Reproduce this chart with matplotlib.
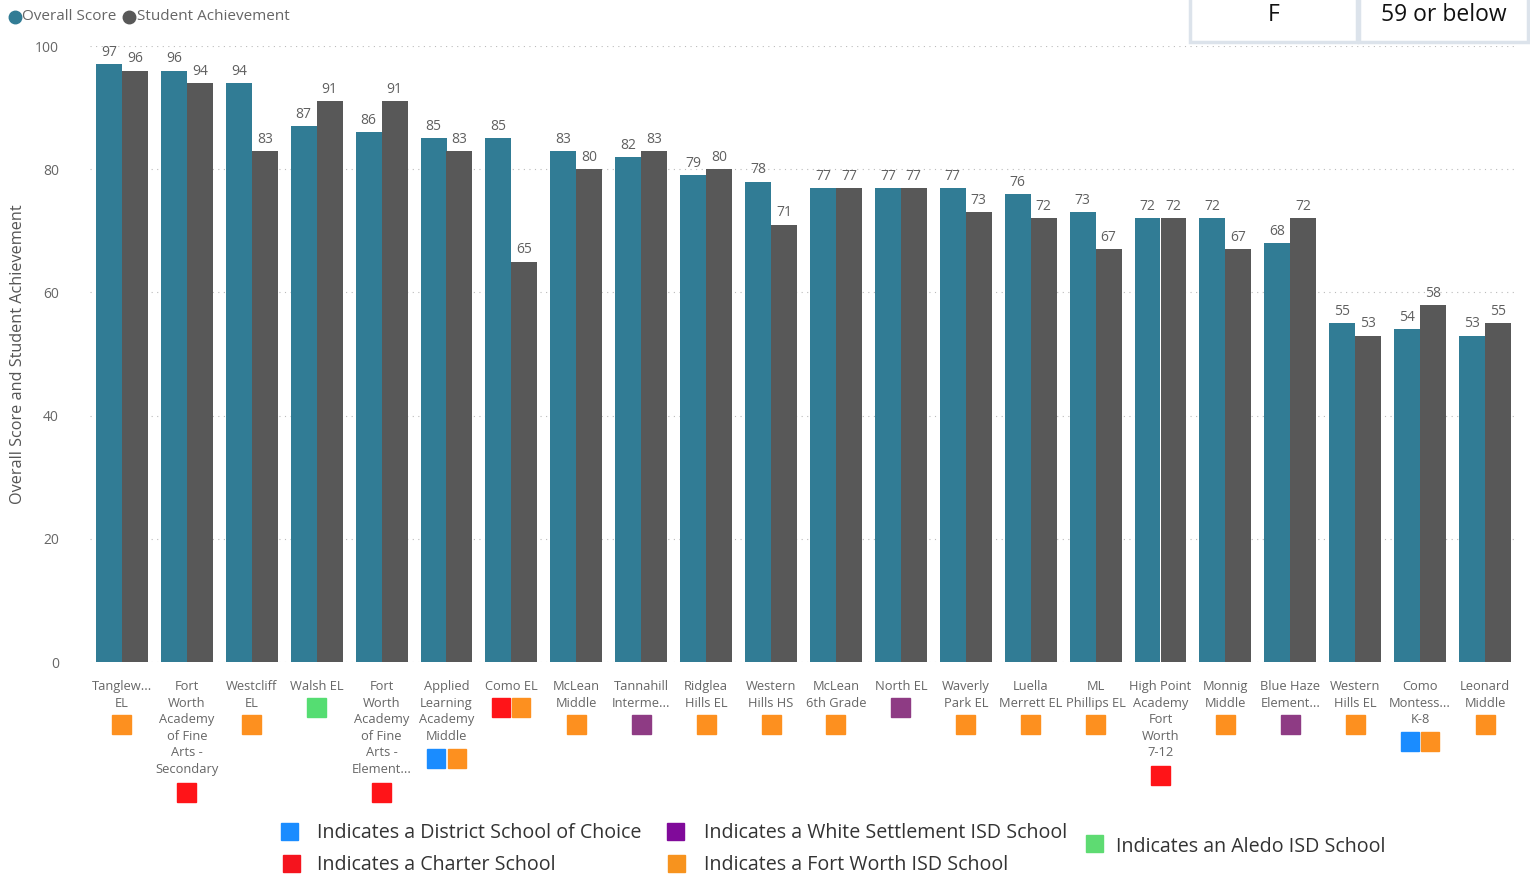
import matplotlib
matplotlib.use("Agg")
import matplotlib.pyplot as plt
from matplotlib.patches import Rectangle
from matplotlib.lines import Line2D
from matplotlib import transforms

plt.rcParams['font.family'] = ['Open Sans', 'DejaVu Sans']

# Data
schools = [
    "Tanglew...\nEL",
    "Fort\nWorth\nAcademy\nof Fine\nArts -\nSecondary",
    "Westcliff\nEL",
    "Walsh EL",
    "Fort\nWorth\nAcademy\nof Fine\nArts -\nElement...",
    "Applied\nLearning\nAcademy\nMiddle",
    "Como EL",
    "McLean\nMiddle",
    "Tannahill\nInterme...",
    "Ridglea\nHills EL",
    "Western\nHills HS",
    "McLean\n6th Grade",
    "North EL",
    "Waverly\nPark EL",
    "Luella\nMerrett EL",
    "ML\nPhillips EL",
    "High Point\nAcademy\nFort\nWorth\n7-12",
    "Monnig\nMiddle",
    "Blue Haze\nElement...",
    "Western\nHills EL",
    "Como\nMontess...\nK-8",
    "Leonard\nMiddle",
]
overall_score = [97, 96, 94, 87, 86, 85, 85, 83, 82, 79, 78, 77, 77, 77, 76, 73, 72, 72, 68, 55, 54, 53]
student_achievement = [96, 94, 83, 91, 91, 83, 65, 80, 83, 80, 71, 77, 77, 73, 72, 67, 72, 67, 72, 53, 58, 55]

# school type markers shown under each name
school_flags = [
    ["fwisd"], ["charter"], ["fwisd"], ["aledo"], ["charter"], ["choice", "fwisd"],
    ["charter", "fwisd"], ["fwisd"], ["wsisd"], ["fwisd"], ["fwisd"], ["fwisd"],
    ["wsisd"], ["fwisd"], ["fwisd"], ["fwisd"], ["charter"], ["fwisd"],
    ["wsisd"], ["fwisd"], ["choice", "fwisd"], ["fwisd"],
]
flag_colors = {"choice": "#1A8CFF", "charter": "#FF1418", "fwisd": "#FD901F",
               "wsisd": "#8E3B84", "aledo": "#55DD72"}

legend_items = [
    ("Indicates a District School of Choice", "#1A8CFF"),
    ("Indicates a Charter School", "#F5141E"),
    ("Indicates a White Settlement ISD School", "#800A9A"),
    ("Indicates a Fort Worth ISD School", "#F7931E"),
    ("Indicates an Aledo ISD School", "#5EDB72"),
]

W, H = 1530, 876
fig = plt.figure(figsize=(W / 100, H / 100), dpi=100)
ax = fig.add_axes([89.5 / W, 1 - 662 / H, (1517.5 - 89.5) / W, (662 - 46) / H])

teal = "#317C95"
grey = "#585858"
x = list(range(len(schools)))
b1 = ax.bar([i - 0.2 for i in x], overall_score, width=0.4, color=teal, zorder=2)
b2 = ax.bar([i + 0.2 for i in x], student_achievement, width=0.4, color=grey, zorder=2)
ax.bar_label(b1, padding=3, fontsize=10, color="#606060")
ax.bar_label(b2, padding=3, fontsize=10, color="#606060")

ax.set_xlim(-0.5, len(schools) - 0.5)
ax.set_ylim(0, 100)
ax.set_yticks([0, 20, 40, 60, 80, 100])
ax.grid(axis="y", linestyle=(0, (1, 4)), color="#BBBBBB", linewidth=0.8, zorder=0)
for s in ax.spines.values():
    s.set_visible(False)
ax.tick_params(axis="y", length=0, labelsize=10, labelcolor="#666666", pad=22)
ax.tick_params(axis="x", length=0, labelsize=9.3, labelcolor="#666666", pad=13)
ax.set_xticks(x)
ax.set_xticklabels(schools, linespacing=1.36, va="top")
fig.text(18 / W, 1 - 354 / H, "Overall Score and Student Achievement", fontsize=11.7,
         color="#555555", rotation=90, ha="center", va="center")

# colored squares under the names
trans = transforms.blended_transform_factory(ax.transData, fig.transFigure)
sq_w = 19 / 64.9
sq_h = 19 / H
for i, (name, flags) in enumerate(zip(schools, school_flags)):
    n_lines = name.count("\n") + 1
    top = 681 + 17 * n_lines
    n = len(flags)
    w = sq_w if n == 1 else 18 / 64.9
    gap = 2 / 64.9
    total = n * w + (n - 1) * gap
    x0 = i - total / 2
    for k, f in enumerate(flags):
        ax.add_patch(Rectangle((x0 + k * (w + gap), 1 - (top + 19) / H), w, sq_h,
                               transform=trans, color=flag_colors[f], clip_on=False))

# top series legend
fig.add_artist(Line2D([15 / W], [1 - 17 / H], marker="o", markersize=9, color=teal,
                      linestyle="", transform=fig.transFigure))
fig.text(22 / W, 1 - 17 / H, "Overall Score", fontsize=11, color="#666666", va="center")
fig.add_artist(Line2D([129 / W], [1 - 17 / H], marker="o", markersize=9, color=grey,
                      linestyle="", transform=fig.transFigure))
fig.text(137 / W, 1 - 17 / H, "Student Achievement", fontsize=11, color="#666666", va="center")

# bottom legend
legend_pos = [(281, 831, 317, 833), (283, 863, 317, 865), (667, 831, 704, 833),
              (668, 863, 704, 865), (1086, 843, 1116, 847)]
for (label, col), (sx, sy, tx, ty) in zip(legend_items, legend_pos):
    fig.add_artist(Rectangle((sx / W, 1 - (sy + 8.5) / H), 17 / W, 17 / H,
                             color=col, transform=fig.transFigure))
    fig.text(tx / W, 1 - ty / H, label, fontsize=14.1, color="#333333", va="center")

# grade table fragment in top right
for (bx0, bx1, txt) in [(1190, 1357, "F"), (1359, 1528, "59 or below")]:
    fig.add_artist(Rectangle((bx0 / W, 1 - 42 / H), (bx1 - bx0) / W, 50 / H,
                             facecolor="white", edgecolor="#DCE3EB", linewidth=2.5,
                             transform=fig.transFigure))
    fig.text((bx0 + bx1) / 2 / W, 1 - 15 / H, txt, fontsize=16.5, color="#111111",
             ha="center", va="center")

fig.savefig("out.png", dpi=100)
